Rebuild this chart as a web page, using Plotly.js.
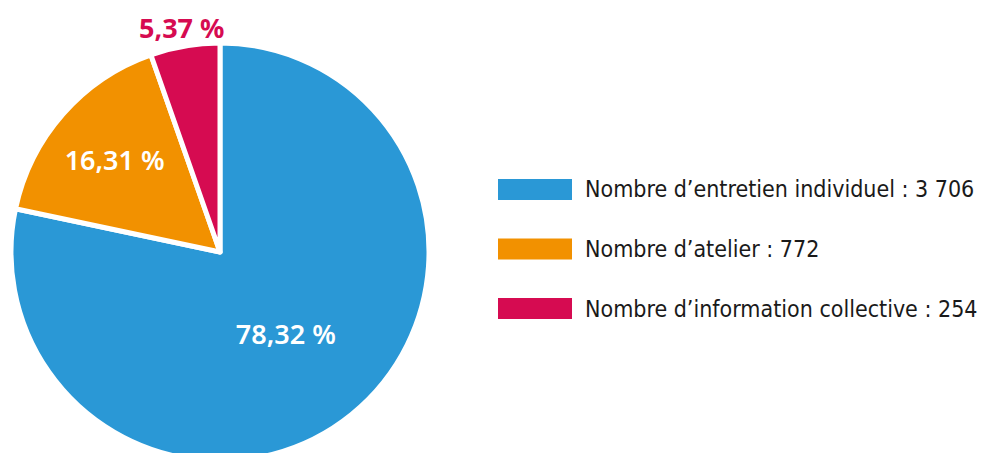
<!DOCTYPE html>
<html>
<head>
<meta charset="utf-8">
<script src="https://cdn.plot.ly/plotly-3.0.1.min.js"></script>
<style>
html,body{margin:0;padding:0;overflow:hidden;background:#fff;}
#chart{width:985px;height:506px;}
</style>
</head>
<body>
<div id="chart"></div>
<script>
const labels = ["Nombre d\u2019entretien individuel", "Nombre d\u2019atelier", "Nombre d\u2019information collective"];
const values = [3706, 772, 254];
const valueLabels = ["3 706", "772", "254"];
const percentLabels = ["78,32 %", "16,31 %", "5,37 %"];
const colors = ["#2A98D6", "#F29100", "#D60B51"];

const W = 985, H = 506;
const cx = 220, cy = 252, R = 209;

const trace = {
  type: "pie",
  labels: labels,
  values: values,
  text: [percentLabels[0], percentLabels[1], ""],
  textinfo: "text",
  textposition: "inside",
  insidetextorientation: "horizontal",
  sort: false,
  direction: "clockwise",
  rotation: 0,
  marker: {colors: colors, line: {color: "#ffffff", width: 5}},
  insidetextfont: {family: "Noto Sans", size: 27, color: "#ffffff", weight: 600},
  domain: {x: [(cx - R) / W, (cx + R) / W], y: [1 - (cy + R) / H, 1 - (cy - R) / H]},
  showlegend: false,
  hoverinfo: "none"
};

const shapes = [];
const annotations = [];

const total = values.reduce((a, b) => a + b, 0);
const midFrac = (values[0] + values[1] + values[2] / 2) / total;
const ang = 2 * Math.PI * midFrac;
const dist = R + 19;
annotations.push({
  xref: "paper", yref: "paper",
  x: (cx + dist * Math.sin(ang)) / W,
  y: 1 - (cy - dist * Math.cos(ang)) / H,
  xanchor: "center", yanchor: "middle", showarrow: false,
  text: percentLabels[2],
  font: {family: "Noto Sans", size: 27, color: colors[2], weight: 700}
});

const legTop = [179, 238.5, 298];
for (let i = 0; i < labels.length; i++) {
  shapes.push({
    type: "rect", xref: "paper", yref: "paper",
    x0: 498 / W, x1: 572 / W,
    y0: 1 - (legTop[i] + 21) / H, y1: 1 - legTop[i] / H,
    fillcolor: colors[i], line: {width: 0}
  });
  annotations.push({
    xref: "paper", yref: "paper",
    x: 583 / W, y: 1 - (legTop[i] + 10.5) / H,
    xanchor: "left", yanchor: "middle", showarrow: false,
    text: labels[i] + " : " + valueLabels[i],
    font: {family: "DejaVu Sans Condensed", size: 23, color: "#1a1a1a"}
  });
}

Plotly.newPlot("chart", [trace], {
  width: W, height: H,
  margin: {l: 0, r: 0, t: 0, b: 0},
  paper_bgcolor: "#ffffff",
  shapes: shapes,
  annotations: annotations
}, {staticPlot: true});
</script>
</body>
</html>
